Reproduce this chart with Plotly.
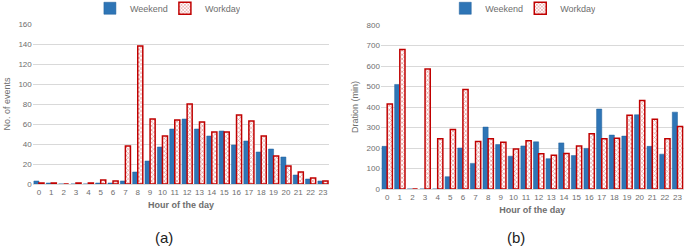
import plotly.graph_objects as go

hours = [str(h) for h in range(24)]
events_weekend = [3, 1, 0, 0, 0, 1, 1, 3, 12, 23, 37, 55, 65, 55, 48, 53, 39, 43, 32, 35, 27, 9, 5, 3]
events_workday = [1, 1, 0, 1, 1, 4, 3, 38, 138, 65, 48, 64, 80, 62, 52, 52, 69, 63, 48, 28, 18, 12, 6, 3]
dur_weekend = [208, 510, 0, 0, 0, 60, 200, 125, 302, 217, 160, 210, 230, 148, 225, 163, 198, 390, 263, 258, 362, 208, 170, 375]
dur_workday = [415, 680, 0, 585, 245, 290, 485, 232, 245, 228, 195, 235, 172, 165, 173, 210, 270, 245, 248, 360, 432, 340, 245, 305]

BLUE = "#2E75B6"
RED = "#C00000"
GREY = "#6E6E6E"
FONT = "Liberation Sans"

fig = go.Figure()

def add_pair(wk, wd, xa, ya, leg):
    fig.add_trace(go.Bar(x=hours, y=wk, name="Weekend", xaxis=xa, yaxis=ya, legend=leg,
                         marker=dict(color=BLUE, line=dict(color="#1F5F99", width=0.5))))
    fig.add_trace(go.Bar(x=hours, y=wd, name="Workday", xaxis=xa, yaxis=ya, legend=leg,
                         marker=dict(color="white", line=dict(color=RED, width=1.5),
                                     pattern=dict(shape="x", fgcolor=RED, bgcolor="white",
                                                  size=3, solidity=0.35))))

add_pair(events_weekend, events_workday, "x", "y", "legend")
add_pair(dur_weekend, dur_workday, "x2", "y2", "legend2")

tickf = dict(family=FONT, size=8, color=GREY)
titlef = dict(family=FONT, size=9, color=GREY)
legf = dict(family=FONT, size=9, color=GREY)

fig.update_layout(
    width=690, height=250,
    margin=dict(l=0, r=0, t=0, b=0, autoexpand=False),
    paper_bgcolor="white", plot_bgcolor="white",
    barmode="group", bargap=0.18, bargroupgap=0.0,
    font=dict(family=FONT, color=GREY),
    xaxis=dict(domain=[0.0475, 0.477], anchor="y", tickfont=tickf, showgrid=False,
               showline=True, linecolor="#D9D9D9", ticks="", tickangle=0,
               title=dict(text="<b>Hour of the day</b>", font=titlef, standoff=6)),
    yaxis=dict(domain=[0.264, 0.904], anchor="x", range=[0, 160], dtick=20,
               tickfont=tickf, gridcolor="#D9D9D9", zeroline=False,
               title=dict(text="No. of events", font=titlef, standoff=6)),
    xaxis2=dict(domain=[0.552, 0.991], anchor="y2", tickfont=tickf, showgrid=False,
                showline=True, linecolor="#D9D9D9", ticks="", tickangle=0,
                title=dict(text="<b>Hour of the day</b>", font=titlef, standoff=6)),
    yaxis2=dict(domain=[0.244, 0.9], anchor="x2", range=[0, 800], dtick=100,
                tickfont=tickf, gridcolor="#D9D9D9", zeroline=False,
                title=dict(text="Dration (min)", font=titlef, standoff=6)),
    legend=dict(orientation="h", x=0.239, y=1.025, xanchor="center", yanchor="top",
                font=legf, itemwidth=30, entrywidth=30, tracegroupgap=0,
                bgcolor="rgba(0,0,0,0)"),
    legend2=dict(orientation="h", x=0.754, y=1.025, xanchor="center", yanchor="top",
                 font=legf, itemwidth=30, entrywidth=30, tracegroupgap=0,
                 bgcolor="rgba(0,0,0,0)"),
    annotations=[
        dict(text="(a)", x=0.238, y=0.05, xref="paper", yref="paper", showarrow=False,
             font=dict(family=FONT, size=15, color="#222222"), xanchor="center", yanchor="middle"),
        dict(text="(b)", x=0.748, y=0.05, xref="paper", yref="paper", showarrow=False,
             font=dict(family=FONT, size=15, color="#222222"), xanchor="center", yanchor="middle"),
    ],
)

fig.write_html("out.html", config={"displayModeBar": False},
               post_script="document.body.style.margin='0';document.body.style.overflow='hidden';")
